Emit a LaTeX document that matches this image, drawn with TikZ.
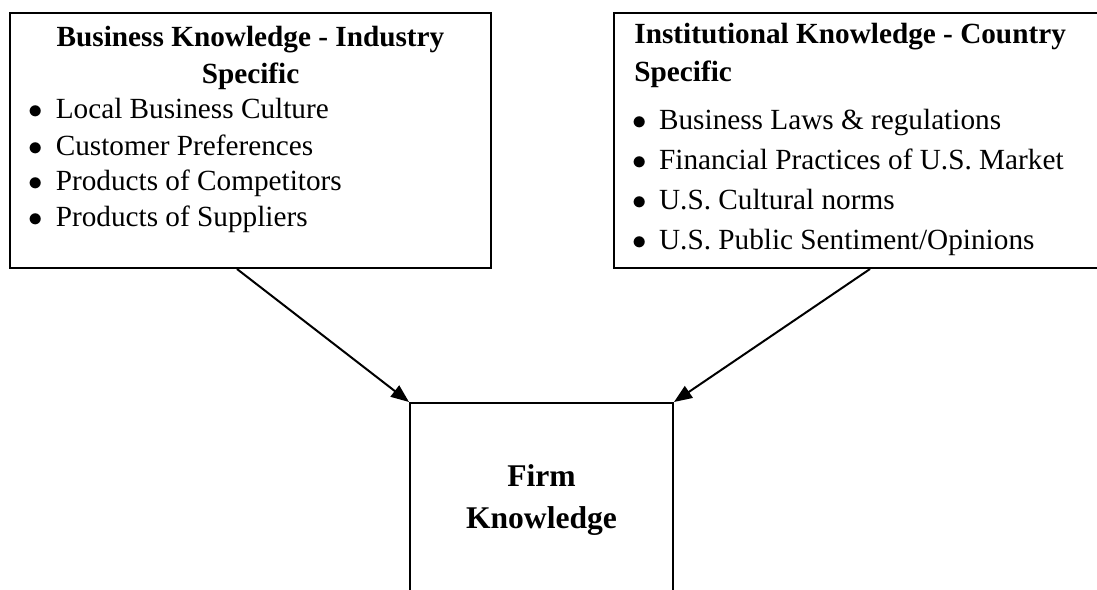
\documentclass[tikz,border=0pt]{standalone}
\usepackage{fontspec}
\setmainfont{Liberation Serif}
\usetikzlibrary{positioning}
\usetikzlibrary{arrows.meta}

\newcommand{\kbullet}[1]{\makebox[12.6pt][l]{\hspace{-0.85pt}$\bullet$}#1}

\begin{document}
\begin{tikzpicture}[x=0.5pt, y=-0.5pt,
		kbox/.style={draw, line width=1pt, inner sep=0pt},
		kline/.style={anchor=base west, inner sep=0pt, font=\fontsize{14.625pt}{18pt}\selectfont},
		khead/.style={inner sep=0pt, font=\fontsize{14.625pt}{18pt}\selectfont\bfseries},
		kfirm/.style={kbox, align=center, font=\fontsize{15.8pt}{21pt}\selectfont\bfseries},
		karrow/.style={-{Triangle[length=9pt, width=7pt]}, line width=1pt}]
		
		\useasboundingbox (0,0) rectangle (1097,589);
		\clip (0,0) rectangle (1097,589);
		
		%boxes
		\node[kbox, minimum width=240.5pt, minimum height=127.5pt] (bizk) at (250.5,140.5) {};
		\node[kbox, minimum width=256pt, minimum height=127.5pt] (instk) at (870,140.5) {};
		\node[kfirm, minimum width=131.5pt, minimum height=97pt] (firm) at (541.5,500) {Firm\\Knowledge};
		
		%titles
		\node[khead, anchor=base] (bizt0) at (250.5,46.7) {Business Knowledge - Industry};
		\node[khead, anchor=base] (bizt1) at (250.5,83.3) {Specific};
		\node[khead, anchor=base west] (inst0) at (634,43) {Institutional Knowledge - Country};
		\node[khead, anchor=base west] (inst1) at (634,81.7) {Specific};
		
		%bullets
		\node[kline] (biz0) at (30.2,118.3) {\kbullet{Local Business Culture}};
		\node[kline] (biz1) at (30.2,155) {\kbullet{Customer Preferences}};
		\node[kline] (biz2) at (30.2,190.7) {\kbullet{Products of Competitors}};
		\node[kline] (biz3) at (30.2,226.7) {\kbullet{Products of Suppliers}};
		
		\node[kline] (ins0) at (633.5,129.3) {\kbullet{Business Laws \& regulations}};
		\node[kline] (ins1) at (633.5,169.3) {\kbullet{Financial Practices of U.S. Market}};
		\node[kline] (ins2) at (633.5,209.3) {\kbullet{U.S. Cultural norms}};
		\node[kline] (ins3) at (633.5,249.3) {\kbullet{U.S. Public Sentiment/Opinions}};
		
		% arrows
		\draw[karrow] (bizk.264) -- (firm.north west);
		\draw[karrow] (instk.south) -- (firm.north east);
	\end{tikzpicture}
\end{document}
